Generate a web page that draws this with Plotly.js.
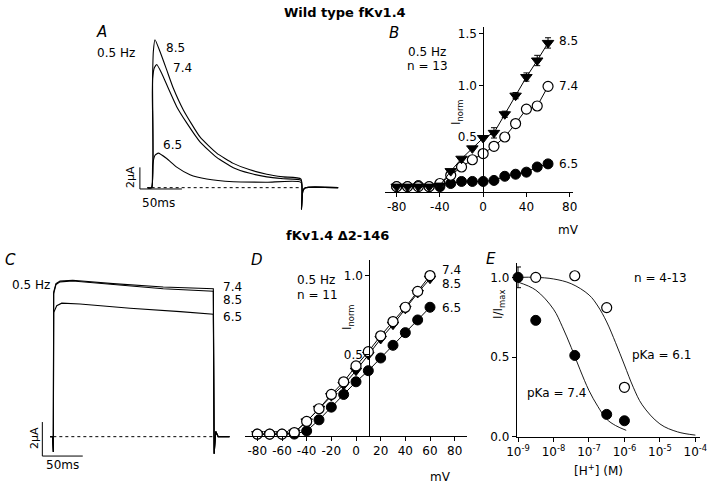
<!DOCTYPE html>
<html>
<head>
<meta charset="utf-8">
<script src="https://cdn.plot.ly/plotly-3.0.1.min.js"></script>
<style>
  body { margin: 0; background: #fff; }
  #chart { width: 720px; height: 488px; }
</style>
</head>
<body>
<div id="chart"></div>
<script>
// ---- panel A: wild type current traces (time ms, current uA)
const tA85 = [-5, 0, 0.8, 2.0, 4.0, 9.9, 17.9, 25.8, 37.7, 57.5, 77.4, 97.2, 117, 137, 156.7, 177.8, 178.3, 180, 183, 222];
const iA85 = [0, 0, 8.9, 12.6, 13.7, 12.6, 10.9, 9.2, 7.2, 4.7, 3.2, 2.25, 1.65, 1.25, 1.0, 0.8, -2.0, -0.3, 0, 0];
const tA74 = [-5, 0, 1.2, 3.2, 6.0, 11.9, 19.8, 29.8, 41.7, 57.5, 77.4, 97.2, 117, 137, 156.7, 177.8, 178.3, 180, 183, 222];
const iA74 = [0, 0, 10.1, 11.1, 11.4, 10.6, 9.2, 7.5, 6.0, 4.25, 2.8, 1.85, 1.33, 1.0, 0.83, 0.68, -2.0, -0.3, 0, 0];
const tA65 = [-5, 0, 1.2, 4.0, 7.9, 17.9, 29.8, 45.6, 65.5, 97.2, 136.9, 177.8, 178.3, 180, 183, 222];
const iA65 = [0, 0, 2.1, 3.0, 3.2, 2.7, 1.9, 1.2, 0.8, 0.55, 0.5, 0.5, -2.0, -0.3, 0, 0];

// ---- panel C: deletion mutant current traces
const tC74 = [-4, -1, 0, 0.4, 3.3, 8.3, 24, 74, 136, 198, 199, 201, 204, 218];
const iC74 = [0, 0, -0.9, 8.5, 9.0, 9.15, 9.2, 9.0, 8.8, 8.7, -1.0, 0.3, 0, 0];
const tC85 = [-4, -1, 0, 0.4, 3.3, 8.3, 24, 74, 136, 198, 199, 201, 204, 218];
const iC85 = [0, 0, -0.9, 8.4, 8.95, 9.1, 9.15, 8.95, 8.7, 8.55, -1.0, 0.3, 0, 0];
const tC65 = [-4, -1, 0, 0.4, 4.2, 10.4, 33, 95, 157, 198, 199, 201, 204, 218];
const iC65 = [0, 0, -0.9, 7.3, 7.7, 7.85, 7.8, 7.55, 7.35, 7.2, -1.0, 0.3, 0, 0];

// ---- panel B: wild type I-V (mV vs Inorm)
const mV = [-80, -70, -60, -50, -40, -30, -20, -10, 0, 10, 20, 30, 40, 50, 60];
const wt85 = [0.02, 0.02, 0.02, 0.02, 0.03, 0.17, 0.29, 0.39, 0.49, 0.54, 0.72, 0.90, 1.08, 1.24, 1.41];
const wt85err = [0, 0, 0, 0, 0, 0, 0, 0, 0, 0.05, 0.03, 0.03, 0.04, 0.05, 0.05];
const wt74 = [0.02, 0.02, 0.02, 0.02, 0.05, 0.13, 0.21, 0.28, 0.34, 0.41, 0.50, 0.63, 0.77, 0.80, 0.99];
const wt74err = [0, 0, 0, 0, 0, 0, 0, 0, 0, 0, 0, 0, 0, 0.04, 0];
const wt65 = [0.02, 0.02, 0.03, 0.02, 0.02, 0.05, 0.07, 0.07, 0.07, 0.08, 0.12, 0.14, 0.16, 0.21, 0.24];

// ---- panel D: deletion mutant I-V
const del74 = [0, 0, 0, 0.01, 0.08, 0.16, 0.25, 0.33, 0.43, 0.52, 0.62, 0.71, 0.80, 0.90, 1.00];
const del85 = [0, 0, 0, 0.01, 0.08, 0.16, 0.24, 0.31, 0.40, 0.50, 0.60, 0.69, 0.79, 0.89, 0.98];
const del65 = [0, 0, 0, 0, 0.02, 0.09, 0.17, 0.25, 0.33, 0.40, 0.48, 0.56, 0.64, 0.72, 0.80];

// ---- panel E: pH dependence
const phFilled = [9.0, 8.5, 7.4, 6.5, 6.0];
const relFilled = [1.0, 0.73, 0.51, 0.14, 0.10];
const relFilledErr = [0.065, 0, 0, 0, 0];
const phOpen = [8.5, 7.4, 6.5, 6.0];
const relOpen = [1.0, 1.01, 0.81, 0.31];
const fit74pH = [9.0, 8.5, 8.0, 7.75, 7.5, 7.25, 7.0, 6.75, 6.5, 6.25, 5.95];
const fit74 = [0.97, 0.92, 0.80, 0.69, 0.56, 0.42, 0.29, 0.19, 0.11, 0.07, 0.04];
const fit61pH = [9.0, 8.5, 8.0, 7.5, 7.0, 6.75, 6.5, 6.25, 6.0, 5.75, 5.5, 5.0, 4.5, 4.0];
const fit61 = [1.0, 1.0, 0.99, 0.96, 0.89, 0.82, 0.72, 0.59, 0.45, 0.31, 0.20, 0.08, 0.03, 0.01];
const hTicks = [1e-9, 1e-8, 1e-7, 1e-6, 1e-5, 1e-4];
const hTickText = ['10<sup>-9</sup>', '10<sup>-8</sup>', '10<sup>-7</sup>', '10<sup>-6</sup>', '10<sup>-5</sup>', '10<sup>-4</sup>'];

const W = 720, H = 488;
const fx = p => p / W;
const fy = p => 1 - p / H;
const toH = ph => ph.map(p => Math.pow(10, -p));

const blk = '#000';
const trace = (x, y, xa, ya, extra) => Object.assign({
    x: x, y: y, xaxis: xa, yaxis: ya, type: 'scatter', mode: 'lines',
    line: {color: blk, width: 1.1}, hoverinfo: 'skip', cliponaxis: false
}, extra || {});

const filledDot = {symbol: 'circle', size: 10, color: blk, line: {color: blk, width: 1}};
const openDot = {symbol: 'circle', size: 10, color: '#fff', line: {color: blk, width: 1.2}};
const triDown = {symbol: 'triangle-down', size: 10, color: blk, line: {color: blk, width: 1}};
const errStyle = arr => ({type: 'data', array: arr, visible: true, color: blk, thickness: 1, width: 3});
const smooth = {color: blk, width: 1.1, shape: 'spline', smoothing: 0.5};

const data = [
    // A
    trace([0, 178], [0, 0], 'x', 'y', {line: {color: blk, width: 1, dash: 'dot'}}),
    trace(tA65, iA65, 'x', 'y', {line: smooth}),
    trace(tA74, iA74, 'x', 'y', {line: smooth}),
    trace(tA85, iA85, 'x', 'y', {line: smooth}),
    trace([-14, -14, 36], [1.88, -0.12, -0.12], 'x', 'y', {line: {color: blk, width: 1}}),
    // C
    trace([0, 200], [0, 0], 'x5', 'y5', {line: {color: blk, width: 1, dash: 'dot'}}),
    trace(tC65, iC65, 'x5', 'y5'),
    trace(tC85, iC85, 'x5', 'y5'),
    trace(tC74, iC74, 'x5', 'y5'),
    trace([-13.6, -13.6, 36.4], [0.86, -1.14, -1.14], 'x5', 'y5', {line: {color: blk, width: 1}}),
    // B
    trace(mV, wt65, 'x2', 'y2', {mode: 'lines+markers', marker: filledDot, line: {color: blk, width: 1}}),
    trace(mV, wt74, 'x2', 'y2', {mode: 'lines+markers', marker: openDot, line: {color: blk, width: 1}, error_y: errStyle(wt74err)}),
    trace(mV, wt85, 'x2', 'y2', {mode: 'lines+markers', marker: triDown, line: {color: blk, width: 1}, error_y: errStyle(wt85err)}),
    // D
    trace(mV, del65, 'x3', 'y3', {mode: 'lines+markers', marker: filledDot, line: {color: blk, width: 1}}),
    trace(mV, del85, 'x3', 'y3', {mode: 'lines+markers', marker: triDown, line: {color: blk, width: 1}}),
    trace(mV, del74, 'x3', 'y3', {mode: 'lines+markers', marker: openDot, line: {color: blk, width: 1}}),
    // E
    trace(toH(fit74pH), fit74, 'x4', 'y4', {line: {color: blk, width: 0.9, shape: 'spline'}}),
    trace(toH(fit61pH), fit61, 'x4', 'y4', {line: {color: blk, width: 0.9, shape: 'spline'}}),
    trace(toH(phOpen), relOpen, 'x4', 'y4', {mode: 'markers', marker: openDot}),
    trace(toH(phFilled), relFilled, 'x4', 'y4', {mode: 'markers', marker: filledDot, error_y: errStyle(relFilledErr)})
];

const tickFont = {family: 'DejaVu Sans, sans-serif', size: 12, color: blk};
const hidden = {visible: false, showgrid: false, zeroline: false};
const shown = {
    showline: true, linecolor: blk, linewidth: 1, ticks: 'outside', ticklen: 4,
    tickcolor: blk, tickwidth: 1, showgrid: false, zeroline: false, tickmode: 'array',
    tickfont: tickFont
};

const ann = (text, x, y, extra) => Object.assign({
    text: text, x: fx(x), y: fy(y), xref: 'paper', yref: 'paper',
    showarrow: false, xanchor: 'center', yanchor: 'middle',
    font: {family: 'DejaVu Sans, sans-serif', size: 12, color: blk}
}, extra || {});
const left = {xanchor: 'left'};
const panelFont = {font: {family: 'DejaVu Sans, sans-serif', size: 15, color: blk}};
const boldFont = {font: {family: 'DejaVu Sans, sans-serif', size: 13, color: blk}};
const smallFont = {family: 'DejaVu Sans, sans-serif', size: 11, color: blk};

const annotations = [
    ann('<b>Wild type fKv1.4</b>', 345, 12, boldFont),
    ann('<b>fKv1.4 \u03942-146</b>', 337, 235, boldFont),
    ann('<i>A</i>', 101, 32, panelFont),
    ann('<i>B</i>', 394, 33, panelFont),
    ann('<i>C</i>', 10, 260, panelFont),
    ann('<i>D</i>', 257, 260, panelFont),
    ann('<i>E</i>', 491, 259, panelFont),
    // A
    ann('0.5 Hz', 95, 53, left),
    ann('8.5', 164, 48, left),
    ann('7.4', 171, 68, left),
    ann('6.5', 161, 145, left),
    ann('2\u00b5A', 131, 177, {textangle: -90, font: smallFont}),
    ann('50ms', 158, 203),
    // B
    ann('0.5 Hz', 427, 52),
    ann('n = 13', 427, 66),
    ann('I<sub>norm</sub>', 457, 113, {textangle: -90}),
    ann('8.5', 557, 41, left),
    ann('7.4', 557, 86, left),
    ann('6.5', 557, 164, left),
    ann('mV', 568, 230),
    // C
    ann('0.5 Hz', 10, 285, left),
    ann('7.4', 221, 287, left),
    ann('8.5', 221, 300, left),
    ann('6.5', 221, 317, left),
    ann('2\u00b5A', 34, 438, {textangle: -90, font: smallFont}),
    ann('50ms', 62, 465),
    // D
    ann('0.5 Hz', 295, 280, left),
    ann('n = 11', 295, 295, left),
    ann('I<sub>norm</sub>', 348, 318, {textangle: -90}),
    ann('7.4', 440, 270, left),
    ann('8.5', 440, 284, left),
    ann('6.5', 440, 308, left),
    ann('mV', 440, 477),
    // E
    ann('n = 4-13', 632, 278, left),
    ann('pKa = 6.1', 630, 355, left),
    ann('pKa = 7.4', 525, 393, left),
    ann('I/I<sub>max</sub>', 499, 305, {textangle: -90}),
    ann('[H<sup>+</sup>] (M)', 598, 470)
];

const layout = {
    width: W, height: H,
    margin: {l: 0, r: 0, t: 0, b: 0},
    paper_bgcolor: '#fff', plot_bgcolor: 'rgba(0,0,0,0)',
    showlegend: false,
    font: {family: 'DejaVu Sans, sans-serif', size: 12, color: blk},
    // A
    xaxis: Object.assign({domain: [fx(100), fx(370)], range: [-61.5, 259.9], anchor: 'y'}, hidden),
    yaxis: Object.assign({domain: [fy(215), fy(25)], range: [-2.53, 15.06], anchor: 'x'}, hidden),
    // B
    xaxis2: Object.assign({}, shown, {domain: [fx(385), fx(573)], range: [-90.8, 83.1], anchor: 'y2',
        tickvals: [-80, -40, 0, 40, 80], ticktext: ['-80', '-40', '0', '40', '80']}),
    yaxis2: Object.assign({}, shown, {domain: [fy(192), fy(27)], range: [-0.032, 1.564], anchor: 'free',
        position: fx(483.3), tickvals: [0.5, 1, 1.5], ticktext: ['0.5', '1.0', '1.5']}),
    // D
    xaxis3: Object.assign({}, shown, {domain: [fx(245), fx(467)], range: [-90, 90], anchor: 'y3',
        tickvals: [-80, -60, -40, -20, 0, 20, 40, 60, 80],
        ticktext: ['-80', '-60', '-40', '-20', '0', '20', '40', '60', '80']}),
    yaxis3: Object.assign({}, shown, {domain: [fy(435.7), fy(260)], range: [-0.01, 1.098], anchor: 'free',
        position: fx(369.3), tickvals: [0.5, 1], ticktext: ['0.5', '1.0']}),
    // E
    xaxis4: Object.assign({}, shown, {type: 'log', domain: [fx(516.7), fx(700)], range: [-9.037, -3.87], anchor: 'y4',
        tickvals: hTicks, ticktext: hTickText}),
    yaxis4: Object.assign({}, shown, {domain: [fy(436.7), fy(263)], range: [0, 1.09], anchor: 'x4',
        tickvals: [0, 0.5, 1], ticktext: ['0.0', '0.5', '1.0']}),
    // C
    xaxis5: Object.assign({domain: [0, fx(240)], range: [-66, 231], anchor: 'y5'}, hidden),
    yaxis5: Object.assign({domain: [fy(470), fy(270)], range: [-1.96, 9.8], anchor: 'x5'}, hidden),
    annotations: annotations
};

Plotly.newPlot('chart', data, layout, {staticPlot: true, displayModeBar: false});
</script>
</body>
</html>
